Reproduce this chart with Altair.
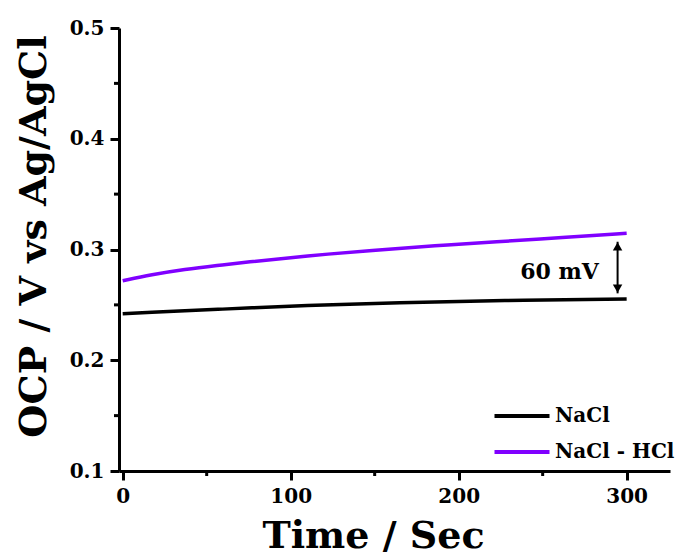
import altair as alt
import pandas as pd

# Data
time_nacl = [0, 17, 37, 57, 75, 105, 165, 225, 300]
ocp_nacl = [0.2420, 0.2433, 0.2447, 0.2460, 0.2472, 0.2492, 0.2520, 0.2541, 0.2553]

time_hcl = [0, 17, 37, 57, 72, 110, 149, 186, 222, 262, 300]
ocp_hcl = [0.2718, 0.2772, 0.2821, 0.2857, 0.2883, 0.2944, 0.2992, 0.3034, 0.3070, 0.3107, 0.3146]

series_names = ["NaCl", "NaCl - HCl"]
series_colors = ["#000000", "#8000ff"]

x_ticks = [0, 100, 200, 300]
x_minor = [50, 150, 250]
y_ticks = [0.1, 0.2, 0.3, 0.4, 0.5]
y_minor = [0.15, 0.25, 0.35, 0.45]

arrow_time = 294.6
arrow_top = 0.3070
arrow_bottom = 0.2604
label_time = 260
label_value = 0.2797
label_text = "60 mV"

FONT = "DejaVu Serif"
W, H = 551, 443

df = pd.concat([
    pd.DataFrame({"t": time_nacl, "v": ocp_nacl, "s": series_names[0], "o": 0}),
    pd.DataFrame({"t": time_hcl, "v": ocp_hcl, "s": series_names[1], "o": 1}),
])

xscale = alt.Scale(domain=[-2.2, 325.8], nice=False, zero=False)
yscale = alt.Scale(domain=[0.1, 0.5], nice=False, zero=False)

xaxis = alt.Axis(values=x_ticks, title="Time / Sec", grid=False, labelFlush=False, titleX=254)
yaxis = alt.Axis(values=y_ticks, format=".1f", title="OCP / V vs Ag/AgCl", grid=False, titleY=208)

lines = alt.Chart(df).mark_line(strokeWidth=3.5, interpolate="basis", clip=True).encode(
    x=alt.X("t:Q", scale=xscale, axis=xaxis),
    y=alt.Y("v:Q", scale=yscale, axis=yaxis),
    color=alt.Color(
        "s:N",
        scale=alt.Scale(domain=series_names, range=series_colors),
        legend=alt.Legend(
            title=None,
            orient="none",
            legendX=391,
            legendY=376,
            symbolType="M-2.75,0H2.75",
            symbolSize=400,
            symbolStrokeWidth=4,
            labelFont=FONT,
            labelFontWeight="bold",
            labelFontSize=20,
            labelColor="black",
            labelOffset=21,
            rowPadding=14,
            padding=0,
            labelLimit=300,
        ),
    ),
    detail="o:Q",
)

xm = alt.Chart(pd.DataFrame({"t": x_minor})).mark_rule(color="black", strokeWidth=3).encode(
    x=alt.X("t:Q", scale=xscale), y=alt.value(H), y2=alt.value(H + 5)
)
ym = alt.Chart(pd.DataFrame({"v": y_minor})).mark_rule(color="black", strokeWidth=3).encode(
    y=alt.Y("v:Q", scale=yscale), x=alt.value(0), x2=alt.value(-5)
)

arrow_df = pd.DataFrame({"t": [arrow_time], "v1": [arrow_top], "v2": [arrow_bottom]})
arrow = alt.Chart(arrow_df).mark_rule(color="black", strokeWidth=2).encode(
    x=alt.X("t:Q", scale=xscale), y=alt.Y("v1:Q", scale=yscale), y2="v2:Q"
)
heads_df = pd.DataFrame({
    "t": [arrow_time, arrow_time],
    "v": [arrow_top - 0.0042, arrow_bottom + 0.0042],
    "shape": ["triangle-up", "triangle-down"],
})
heads = alt.Chart(heads_df).mark_point(filled=True, color="black", size=90, opacity=1).encode(
    x=alt.X("t:Q", scale=xscale),
    y=alt.Y("v:Q", scale=yscale),
    shape=alt.Shape("shape:N", scale=None, legend=None),
)
label = alt.Chart(pd.DataFrame({"t": [label_time], "v": [label_value], "txt": [label_text]})).mark_text(
    font=FONT, fontWeight="bold", fontSize=22, color="black", align="center", baseline="middle"
).encode(x=alt.X("t:Q", scale=xscale), y=alt.Y("v:Q", scale=yscale), text="txt:N")

chart = alt.layer(lines, xm, ym, arrow, heads, label).properties(
    width=W,
    height=H,
    background="white",
    autosize=alt.AutoSizeParams(type="none"),
    padding={"left": 119, "top": 28, "right": 8, "bottom": 86},
).configure_view(stroke=None).configure_axis(
    domainColor="black",
    domainWidth=3,
    tickColor="black",
    tickWidth=3,
    tickSize=9,
    labelFont=FONT,
    labelFontWeight="bold",
    labelFontSize=20,
    labelColor="black",
    labelPadding=6,
    titleFont=FONT,
    titleFontWeight="bold",
    titleColor="black",
).configure_axisX(
    titleFontSize=38,
    titlePadding=11,
).configure_axisY(
    titleFontSize=38,
    titlePadding=16,
)

chart.save("out.html", embed_options={"renderer": "svg", "actions": False})
